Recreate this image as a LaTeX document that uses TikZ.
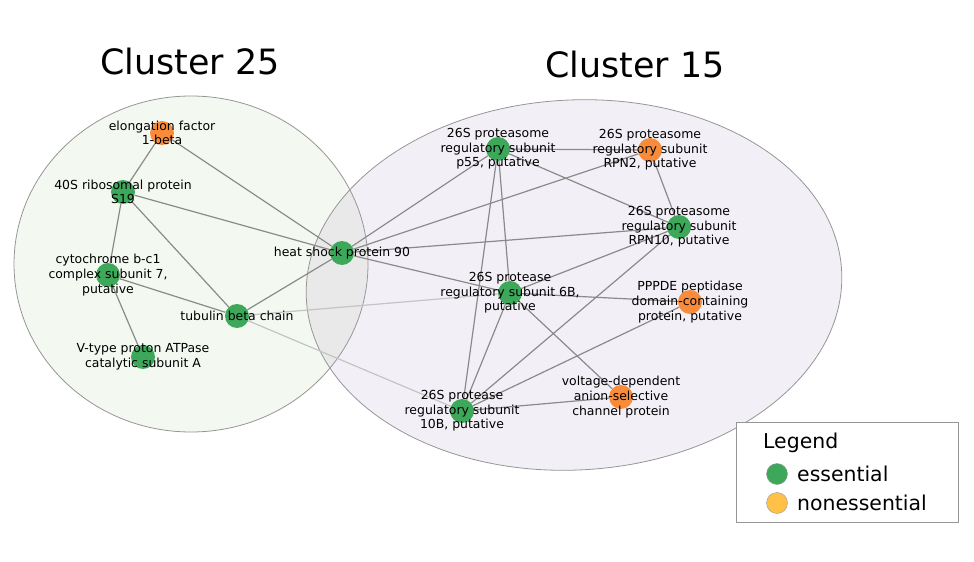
\documentclass[tikz,border=0pt]{standalone}
\usepackage{fontspec}
\setmainfont{DejaVu Sans}
\usetikzlibrary{backgrounds}
\definecolor{ess}{RGB}{61,167,90}
\definecolor{noness}{RGB}{249,140,58}
\definecolor{nonesskey}{RGB}{255,194,71}
\definecolor{edgegray}{RGB}{138,138,138}
\definecolor{edgelight}{RGB}{196,196,196}
\definecolor{rimgray}{RGB}{150,150,150}
\definecolor{fillA}{RGB}{175,208,155}
\definecolor{fillB}{RGB}{175,148,195}

\begin{document}
\begin{tikzpicture}[x=1bp, y=-1bp]
  \tikzstyle{vertex}=[circle, minimum size=24bp, inner sep=0pt]
  \tikzstyle{lab}=[align=center, inner sep=0pt, font=\fontsize{12.5}{14.7}\selectfont]
  \tikzstyle{link}=[draw=edgegray, line width=1.2bp]
  \tikzstyle{weak}=[draw=edgelight, line width=1.2bp]
  \tikzstyle{cluster}=[draw=rimgray, line width=0.8bp, fill opacity=0.15]
  \useasboundingbox (0,0) rectangle (974,562);
  % cluster regions
  \begin{scope}[on background layer]
    \draw[cluster, fill=fillA] (191,264) ellipse [x radius=177bp, y radius=168bp];
    \draw[cluster, fill=fillB, rotate around={3:(574,285)}] (574,285) ellipse [x radius=268bp, y radius=185bp];
  \end{scope}
  \node[font=\fontsize{35}{40}\selectfont] (T_A) at (190,62) {Cluster 25};
  \node[font=\fontsize{35}{40}\selectfont] (T_B) at (635,65) {Cluster 15};
  % cluster 25
  \node[vertex, fill=noness, label={[lab]center:{elongation factor\\1-beta}}] (A_1) at (162,133) {};
  \node[vertex, fill=ess, label={[lab]center:{40S ribosomal protein\\S19}}] (A_2) at (123,192) {};
  \node[vertex, fill=ess, label={[lab]center:{cytochrome b-c1\\complex subunit 7,\\putative}}] (A_3) at (108,275) {};
  \node[vertex, fill=ess, label={[lab]center:{V-type proton ATPase\\catalytic subunit A}}] (A_4) at (143,357) {};
  \node[vertex, fill=ess, label={[lab]center:{tubulin beta chain}}] (A_5) at (237,316) {};
  \node[vertex, fill=ess, label={[lab]center:{heat shock protein 90}}] (A_6) at (342,253) {};
  % cluster 15
  \node[vertex, fill=ess, label={[lab]center:{26S proteasome\\regulatory subunit\\p55, putative}}] (B_1) at (498,149) {};
  \node[vertex, fill=noness, label={[lab]center:{26S proteasome\\regulatory subunit\\RPN2, putative}}] (B_2) at (650,150) {};
  \node[vertex, fill=ess, label={[lab]center:{26S proteasome\\regulatory subunit\\RPN10, putative}}] (B_3) at (679,227) {};
  \node[vertex, fill=ess, label={[lab]center:{26S protease\\regulatory subunit 6B,\\putative}}] (B_4) at (510,293) {};
  \node[vertex, fill=noness, label={[lab]center:{PPPDE peptidase\\domain-containing\\protein, putative}}] (B_5) at (690,302) {};
  \node[vertex, fill=noness, label={[lab]center:{voltage-dependent\\anion-selective\\channel protein}}] (B_6) at (621,397) {};
  \node[vertex, fill=ess, label={[lab]center:{26S protease\\regulatory subunit\\10B, putative}}] (B_7) at (462,411) {};
  % edges
  \begin{scope}[on background layer]
    \draw[link] (A_1) -- (A_2);
    \draw[link] (A_1) -- (A_6);
    \draw[link] (A_2) -- (A_6);
    \draw[link] (A_2) -- (A_3);
    \draw[link] (A_2) -- (A_5);
    \draw[link] (A_3) -- (A_4);
    \draw[link] (A_3) -- (A_5);
    \draw[link] (A_5) -- (A_6);
    \draw[weak] (A_5) -- (B_4);
    \draw[weak] (A_5) -- (B_7);
    \draw[link] (A_6) -- (B_1);
    \draw[link] (A_6) -- (B_2);
    \draw[link] (A_6) -- (B_3);
    \draw[link] (A_6) -- (B_4);
    \draw[link] (B_1) -- (B_2);
    \draw[link] (B_1) -- (B_3);
    \draw[link] (B_1) -- (B_4);
    \draw[link] (B_1) -- (B_7);
    \draw[link] (B_2) -- (B_3);
    \draw[link] (B_3) -- (B_4);
    \draw[link] (B_3) -- (B_7);
    \draw[link] (B_4) -- (B_5);
    \draw[link] (B_4) -- (B_6);
    \draw[link] (B_4) -- (B_7);
    \draw[link] (B_5) -- (B_7);
    \draw[link] (B_6) -- (B_7);
  \end{scope}
  % legend
  \node[draw=rimgray, fill=white, line width=0.8bp, minimum width=222bp, minimum height=100bp, inner sep=0pt, anchor=north west] (key) at (736,422) {};
  \node[anchor=west, inner sep=0pt, font=\fontsize{20.5}{24}\selectfont] (key_T) at (763,443) {Legend};
  \node[vertex, minimum size=21bp, fill=ess, draw=rimgray] (key_1) at (777,474) {};
  \node[vertex, minimum size=21bp, fill=nonesskey, draw=rimgray] (key_2) at (777,503) {};
  \node[anchor=west, inner sep=0pt, font=\fontsize{20.5}{24}\selectfont] (key_1T) at (797,474) {essential};
  \node[anchor=west, inner sep=0pt, font=\fontsize{20.5}{24}\selectfont] (key_2T) at (797,503) {nonessential};
\end{tikzpicture}
\end{document}
